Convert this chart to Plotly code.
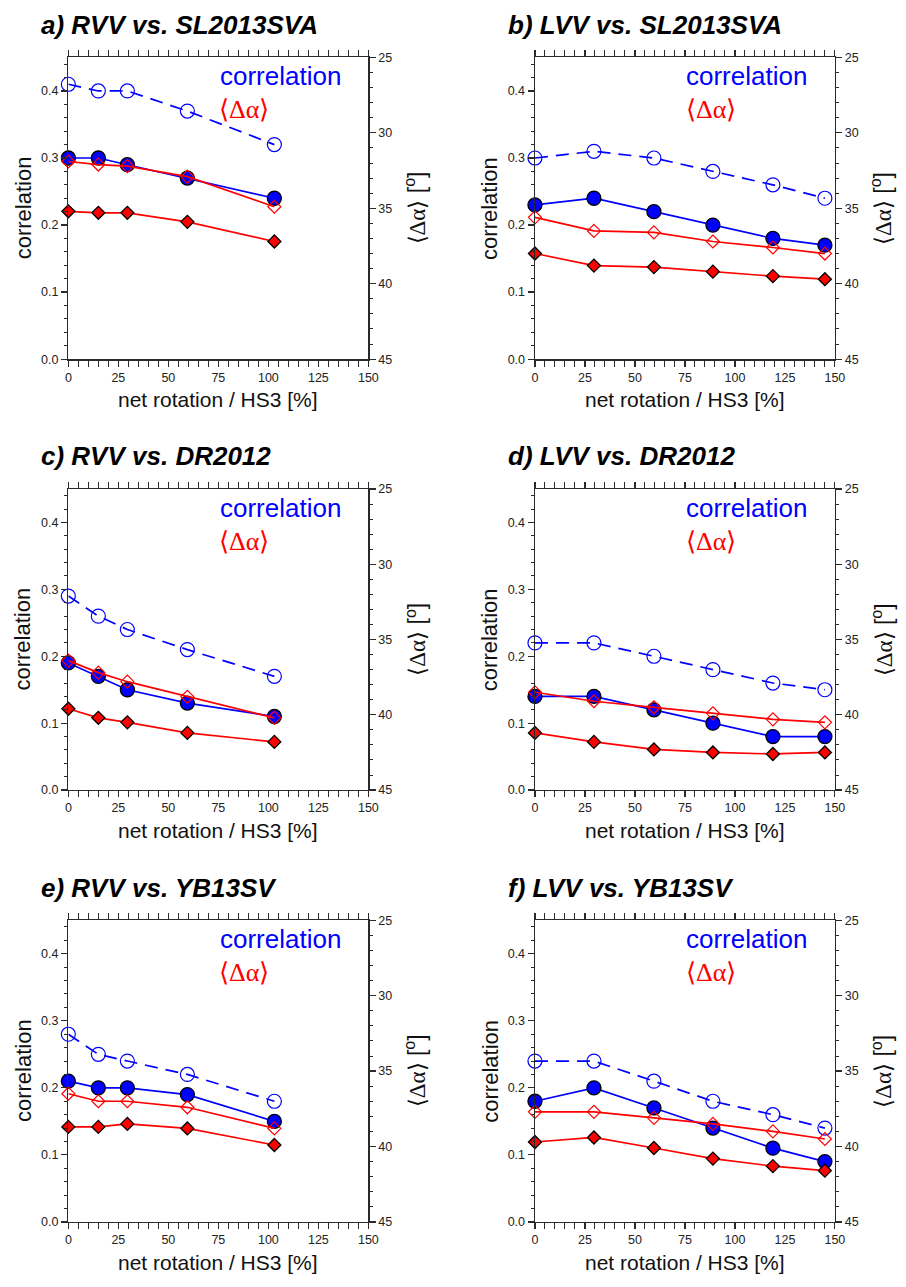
import plotly.graph_objects as go

# ---------------- data ----------------
x_rvv = [0, 15, 29.5, 59.5, 103]
x_lvv = [0, 29.5, 59.5, 89, 119, 145]

titles = ["a) RVV vs. SL2013SVA", "b) LVV vs. SL2013SVA",
          "c) RVV vs. DR2012", "d) LVV vs. DR2012",
          "e) RVV vs. YB13SV", "f) LVV vs. YB13SV"]

corr_open_a = [0.41, 0.40, 0.40, 0.37, 0.32]
corr_fill_a = [0.30, 0.30, 0.29, 0.27, 0.24]
dalpha_open_a = [31.9, 32.1, 32.2, 32.9, 34.9]
dalpha_fill_a = [35.2, 35.3, 35.3, 35.9, 37.2]

corr_open_b = [0.30, 0.31, 0.30, 0.28, 0.26, 0.24]
corr_fill_b = [0.23, 0.24, 0.22, 0.20, 0.18, 0.17]
dalpha_open_b = [35.6, 36.5, 36.6, 37.2, 37.6, 38.0]
dalpha_fill_b = [38.0, 38.8, 38.9, 39.2, 39.5, 39.7]

corr_open_c = [0.29, 0.26, 0.24, 0.21, 0.17]
corr_fill_c = [0.19, 0.17, 0.15, 0.13, 0.11]
dalpha_open_c = [36.4, 37.2, 37.8, 38.8, 40.2]
dalpha_fill_c = [39.6, 40.2, 40.5, 41.2, 41.8]

corr_open_d = [0.22, 0.22, 0.20, 0.18, 0.16, 0.15]
corr_fill_d = [0.14, 0.14, 0.12, 0.10, 0.08, 0.08]
dalpha_open_d = [38.5, 39.1, 39.5, 39.9, 40.3, 40.5]
dalpha_fill_d = [41.2, 41.8, 42.3, 42.5, 42.6, 42.5]

corr_open_e = [0.28, 0.25, 0.24, 0.22, 0.18]
corr_fill_e = [0.21, 0.20, 0.20, 0.19, 0.15]
dalpha_open_e = [36.5, 37.0, 37.0, 37.4, 38.8]
dalpha_fill_e = [38.7, 38.7, 38.5, 38.8, 39.9]

corr_open_f = [0.24, 0.24, 0.21, 0.18, 0.16, 0.14]
corr_fill_f = [0.18, 0.20, 0.17, 0.14, 0.11, 0.09]
dalpha_open_f = [37.7, 37.7, 38.1, 38.5, 39.0, 39.5]
dalpha_fill_f = [39.7, 39.4, 40.1, 40.8, 41.3, 41.6]

corr_ticks = [0.0, 0.1, 0.2, 0.3, 0.4]
dalpha_ticks = [25, 30, 35, 40, 45]
x_ticks = [0, 25, 50, 75, 100, 125, 150]

panels = [
    (x_rvv, corr_open_a, corr_fill_a, dalpha_open_a, dalpha_fill_a),
    (x_lvv, corr_open_b, corr_fill_b, dalpha_open_b, dalpha_fill_b),
    (x_rvv, corr_open_c, corr_fill_c, dalpha_open_c, dalpha_fill_c),
    (x_lvv, corr_open_d, corr_fill_d, dalpha_open_d, dalpha_fill_d),
    (x_rvv, corr_open_e, corr_fill_e, dalpha_open_e, dalpha_fill_e),
    (x_lvv, corr_open_f, corr_fill_f, dalpha_open_f, dalpha_fill_f),
]

# ---------------- layout geometry (pixels) ----------------
W, H = 906, 1287
cols = [(66.3, 370.7), (539.7, 844.0)]
rows = [(51.0, 356.0), (487.3, 791.7), (923.3, 1228.3)]

BLUE = "#0000ff"
RED = "#ff0000"
AX = "#2a2a2a"
FONT = "Liberation Sans"

def px(x):
    return x / W

def py(y):
    return 1 - y / H

fig = go.Figure()
annotations = []
layout = {}

for i, (xs, co, cf, do, df) in enumerate(panels):
    r, c = divmod(i, 2)
    L, R = cols[c]
    T, B = rows[r]
    n = i + 1
    xa = "x" if n == 1 else f"x{n}"
    ya_l = f"y{2*i+1}" if i > 0 else "y"
    ya_r = f"y{2*i+2}"
    xkey = "xaxis" if n == 1 else f"xaxis{n}"
    ylkey = "yaxis" if i == 0 else f"yaxis{2*i+1}"
    yrkey = f"yaxis{2*i+2}"

    layout[xkey] = dict(
        domain=[px(L), px(R)], anchor=ya_l, range=[0, 150],
        tickvals=x_ticks, ticks="outside", ticklen=6, tickwidth=1.2,
        tickcolor=AX, showline=True, linecolor=AX, linewidth=1.4,
        mirror="allticks", showgrid=False, zeroline=False,
        tickfont=dict(family=FONT, size=12.5, color="#222"),
        minor=dict(dtick=5, tick0=0, ticks="outside", ticklen=3,
                   tickcolor=AX, tickwidth=1, showgrid=False),
    )
    layout[ylkey] = dict(
        domain=[py(B), py(T)], anchor=xa, range=[0, 0.45],
        tickvals=corr_ticks, tickformat=".1f", ticks="outside", ticklen=6,
        tickwidth=1.2, tickcolor=AX, showline=True, linecolor=AX,
        linewidth=1.4, mirror=False, showgrid=False, zeroline=False,
        tickfont=dict(family=FONT, size=12.5, color="#222"),
        minor=dict(dtick=0.02, tick0=0, ticks="outside", ticklen=3,
                   tickcolor=AX, tickwidth=1, showgrid=False),
    )
    layout[yrkey] = dict(
        domain=[py(B), py(T)], anchor=xa, overlaying=ya_l, side="right",
        range=[45, 25], tickvals=dalpha_ticks, ticks="outside", ticklen=6,
        tickwidth=1.2, tickcolor=AX, showline=True, linecolor=AX,
        linewidth=1.4, showgrid=False, zeroline=False,
        tickfont=dict(family=FONT, size=12.5, color="#222"),
        minor=dict(dtick=1, tick0=25, ticks="outside", ticklen=3,
                   tickcolor=AX, tickwidth=1, showgrid=False),
    )

    # correlation (left axis)
    fig.add_trace(go.Scatter(
        x=xs, y=co, xaxis=xa, yaxis=ya_l, mode="lines+markers",
        line=dict(color=BLUE, width=1.7, dash="13px,8px"),
        marker=dict(symbol="circle-open", size=14, color=BLUE,
                    line=dict(width=1.2, color=BLUE)),
        cliponaxis=False, showlegend=False, hoverinfo="skip"))
    fig.add_trace(go.Scatter(
        x=xs, y=cf, xaxis=xa, yaxis=ya_l, mode="lines+markers",
        line=dict(color=BLUE, width=1.7),
        marker=dict(symbol="circle", size=14, color=BLUE,
                    line=dict(width=1.3, color="black")),
        cliponaxis=False, showlegend=False, hoverinfo="skip"))
    # <Δα> (right axis)
    fig.add_trace(go.Scatter(
        x=xs, y=do, xaxis=xa, yaxis=ya_r, mode="lines+markers",
        line=dict(color=RED, width=1.7),
        marker=dict(symbol="diamond-open", size=10, color=RED,
                    line=dict(width=1.2, color=RED)),
        cliponaxis=False, showlegend=False, hoverinfo="skip"))
    fig.add_trace(go.Scatter(
        x=xs, y=df, xaxis=xa, yaxis=ya_r, mode="lines+markers",
        line=dict(color=RED, width=1.7),
        marker=dict(symbol="diamond", size=10, color=RED,
                    line=dict(width=1.3, color="black")),
        cliponaxis=False, showlegend=False, hoverinfo="skip"))

    cx = (L + R) / 2
    cy = (T + B) / 2
    # panel title
    annotations.append(dict(
        text=titles[i], x=px(L - 29.6), y=py(T - 33), xref="paper",
        yref="paper", xanchor="left", yanchor="middle", showarrow=False,
        font=dict(family=FONT, size=26, color="black", weight="bold",
                  style="italic")))
    # x title
    annotations.append(dict(
        text="net rotation / HS3 [%]", x=px(cx), y=py(B + 41),
        xref="paper", yref="paper", xanchor="center", yanchor="middle",
        showarrow=False, font=dict(family=FONT, size=21, color="#111")))
    # left y title
    annotations.append(dict(
        text="correlation", x=px(L - 46), y=py(cy), xref="paper",
        yref="paper", xanchor="center", yanchor="middle", textangle=-90,
        showarrow=False, font=dict(family=FONT, size=22, color="#111")))
    # right y title
    annotations.append(dict(
        text="<span style='font-family:Liberation Serif'>⟨Δα⟩</span> [<sup>o</sup>]",
        x=px(R + 47.5), y=py(cy), xref="paper",
        yref="paper", xanchor="center", yanchor="middle", textangle=-90,
        showarrow=False, font=dict(family=FONT, size=23, color="#111")))
    # in-plot legend labels
    annotations.append(dict(
        text="correlation", x=px(cx - 0.5), y=py(T + 19), xref="paper",
        yref="paper", xanchor="left", yanchor="middle", showarrow=False,
        font=dict(family=FONT, size=26, color=BLUE)))
    annotations.append(dict(
        text="⟨Δα⟩", x=px(cx - 1), y=py(T + 53), xref="paper",
        yref="paper", xanchor="left", yanchor="middle", showarrow=False,
        font=dict(family="Liberation Serif", size=26, color=RED)))

fig.update_layout(
    width=W, height=H, autosize=False,
    margin=dict(l=0, r=0, t=0, b=0),
    paper_bgcolor="white", plot_bgcolor="rgba(0,0,0,0)",
    showlegend=False, annotations=annotations, **layout)

fig.write_html(
    "out.html",
    config={"displayModeBar": False, "staticPlot": True},
    post_script="document.body.style.margin='0';"
                "document.body.style.overflow='hidden';")
